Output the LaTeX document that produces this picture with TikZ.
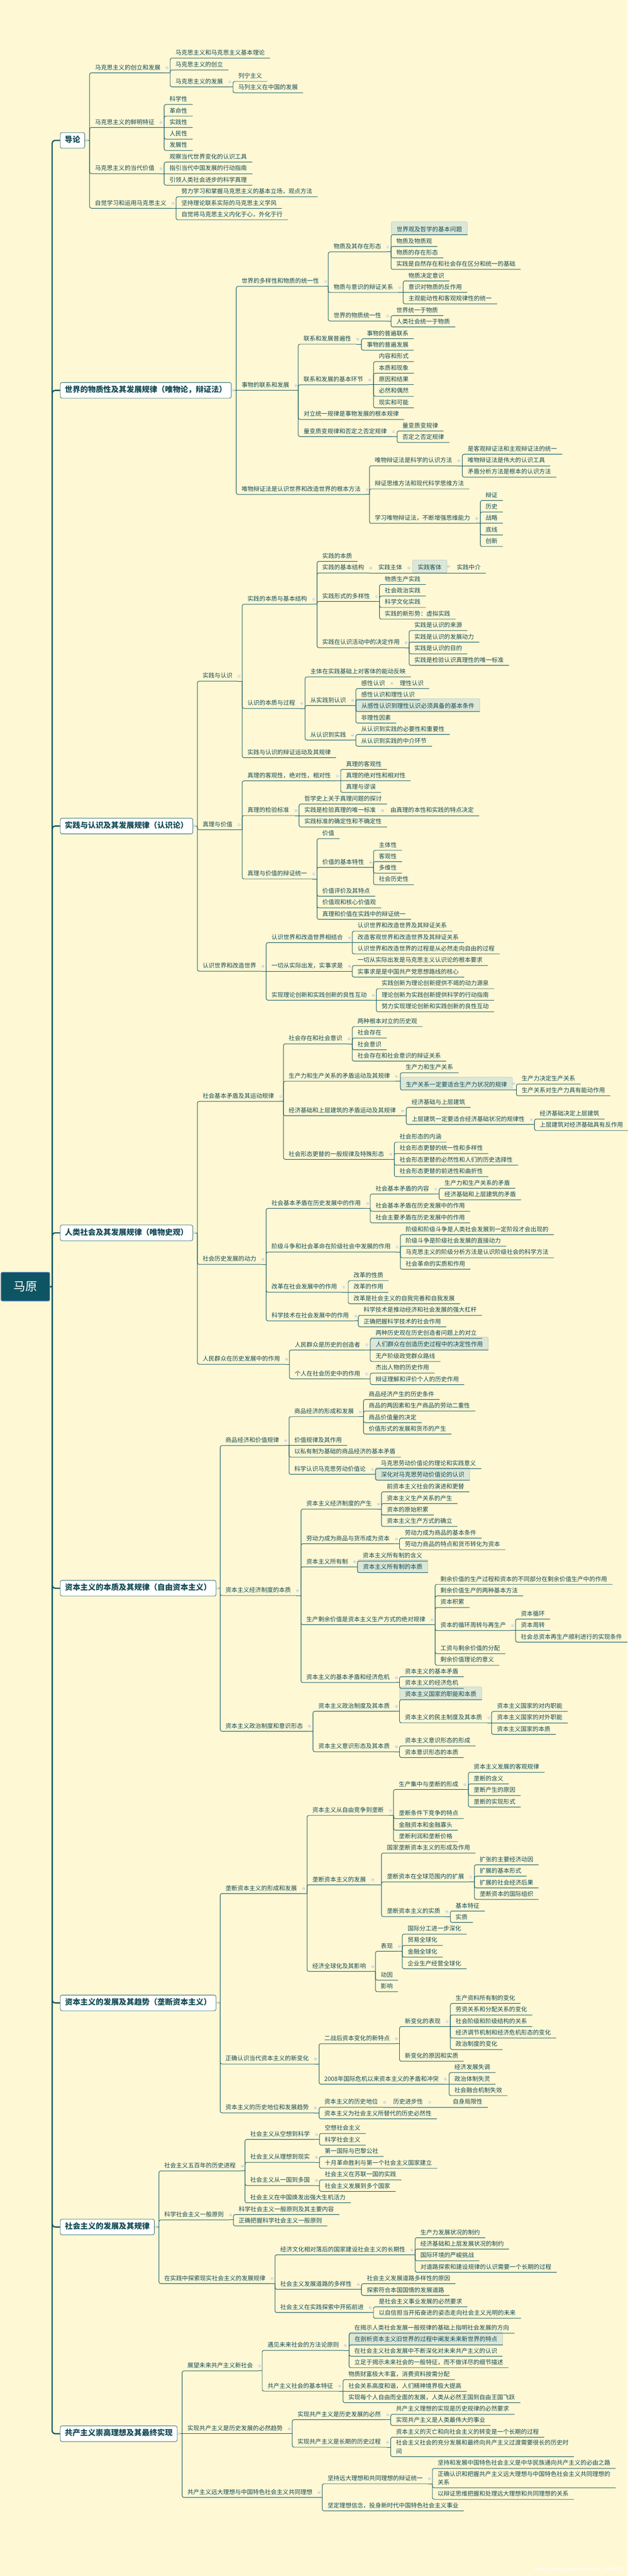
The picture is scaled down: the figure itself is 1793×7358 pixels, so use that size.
\documentclass[tikz,border=0pt]{standalone}
\usepackage{fontspec}
\setmainfont{Noto Sans CJK SC}
\usetikzlibrary{positioning}

\definecolor{bg}{HTML}{FFF8D4}
\definecolor{ink}{HTML}{124B55}
\definecolor{wire}{HTML}{0E5563}
\definecolor{boxline}{HTML}{2A6B78}
\definecolor{rootfill}{HTML}{0D5563}
\definecolor{rootline}{HTML}{5A7FC0}
\definecolor{hlfill}{HTML}{DCE7D6}
\definecolor{hlline}{HTML}{C3D2CC}
\definecolor{foldc}{HTML}{A7B3C8}

\tikzset{
  topic/.style={anchor=south west, inner xsep=15pt, inner ysep=5pt, text height=14pt, text depth=4pt, text=ink, font=\fontsize{17}{24}\selectfont},
  fold/.style={label={[foldmark]east:}},
  foldmark/.style={circle, draw=foldc, fill=white, line width=0.6pt, minimum size=7pt, inner sep=0pt,
    path picture={\draw[foldc, line width=0.6pt] ([xshift=-2pt]path picture bounding box.center) -- ([xshift=2pt]path picture bounding box.center);}},
  hl/.style={fill=hlfill, draw=hlline, line width=1.5pt, rounded corners=3pt, text height=22pt},
  twoline/.style={align=left, text height=, text depth=, inner ysep=7.5pt},
  mainbox/.style={anchor=west, draw=boxline, fill=white, line width=1.3pt, rounded corners=5pt, minimum height=45pt, inner xsep=13pt, text height=17pt, text depth=5pt, text=ink, font=\fontsize{22}{26}\selectfont\bfseries},
  rootbox/.style={draw=rootline, fill=rootfill, line width=2pt, rounded corners=4pt, minimum width=139pt, minimum height=82pt, text=white, font=\fontsize{34}{40}\selectfont},
  link/.style={draw=wire, line width=1.4pt, rounded corners=5pt},
  trunk/.style={draw=wire, line width=3.5pt, rounded corners=9pt}
}

% parent anchor, child that gives the spine, children
\newcommand{\kids}[3]{%
  \draw[link] (#1) -- (#1 -| #2.south west);
  \foreach \kid in {#3}{\draw[link] (#1 -| \kid.south west) |- (\kid.south east);}%
}
% parent anchor, child on the parent's line, other children
\newcommand{\kidsmid}[3]{%
  \draw[link] (#1) -- (#2.south east);
  \foreach \kid in {#3}{\draw[link] (#1 -| \kid.south west) |- (\kid.south east);}%
}

\begin{document}
\begin{tikzpicture}[x=1pt, y=-1pt]
    \useasboundingbox (0,0) rectangle (1793,7358);
    \fill[bg] (0,0) rectangle (1793,7358);

    %% root
    \node[rootbox] (root) at (72.5,3675) {马原};

    %% 导论
    % Nodes
    \node[mainbox] (dao) at (171.5,401) {导论};
    \node[topic, fold] (dao1) at (256,208) {马克思主义的创立和发展};
    \node[topic] (dao11) at (486,166) {马克思主义和马克思主义基本理论};
    \node[topic] (dao12) at (486,200) {马克思主义的创立};
    \node[topic, fold] (dao13) at (486,248) {马克思主义的发展};
    \node[topic] (dao131) at (665.5,232.5) {列宁主义};
    \node[topic] (dao132) at (665.5,265) {马列主义在中国的发展};
    \node[topic, fold] (dao2) at (256,364) {马克思主义的鲜明特征};
    \node[topic] (dao21) at (469,298.5) {科学性};
    \node[topic] (dao22) at (469,331.5) {革命性};
    \node[topic] (dao23) at (469,364) {实践性};
    \node[topic] (dao24) at (469,397.5) {人民性};
    \node[topic] (dao25) at (469,430) {发展性};
    \node[topic, fold] (dao3) at (256,496) {马克思主义的当代价值};
    \node[topic] (dao31) at (469,463) {观察当代世界变化的认识工具};
    \node[topic] (dao32) at (469,496) {指引当代中国发展的行动指南};
    \node[topic] (dao33) at (469,529) {引领人类社会进步的科学真理};
    \node[topic, fold] (dao4) at (256,595) {自觉学习和运用马克思主义};
    \node[topic] (dao41) at (503,562) {努力学习和掌握马克思主义的基本立场，观点方法};
    \node[topic] (dao42) at (503,595) {坚持理论联系实际的马克思主义学风};
    \node[topic] (dao43) at (503,628) {自觉将马克思主义内化于心，外化于行};

    % Connections
    \kids{dao.east}{dao1}{dao1,dao2,dao3,dao4}
    \kids{dao1.south east}{dao11}{dao11,dao12,dao13}
    \kids{dao13.south east}{dao131}{dao131,dao132}
    \kidsmid{dao2.south east}{dao23}{dao21,dao22,dao24,dao25}
    \kidsmid{dao3.south east}{dao32}{dao31,dao33}
    \kidsmid{dao4.south east}{dao42}{dao41,dao43}

    %% 唯物论，辩证法
    % Nodes
    \node[mainbox, minimum width=488.5pt] (wz) at (171.5,1115) {世界的物质性及其发展规律（唯物论，辩证法）};
    \node[topic, fold] (wz1) at (675,818) {世界的多样性和物质的统一性};
    \node[topic, fold] (wz11) at (937.7,719.5) {物质及其存在形态};
    \node[topic, hl] (wz111) at (1117,670.5) {世界观及哲学的基本问题};
    \node[topic] (wz112) at (1117,704) {物质及物质观};
    \node[topic] (wz113) at (1117,736.5) {物质的存在形态};
    \node[topic] (wz114) at (1117,769.5) {实践是自然存在和社会存在区分和统一的基础};
    \node[topic, fold] (wz12) at (937.7,835.5) {物质与意识的辩证关系};
    \node[topic] (wz121) at (1151.5,802.5) {物质决定意识};
    \node[topic] (wz122) at (1151.5,835.5) {意识对物质的反作用};
    \node[topic] (wz123) at (1151.5,868) {主观能动性和客观规律性的统一};
    \node[topic, fold] (wz13) at (937.7,917) {世界的物质统一性};
    \node[topic] (wz131) at (1117,901.5) {世界统一于物质};
    \node[topic] (wz132) at (1117,934) {人类社会统一于物质};
    \node[topic, fold] (wz2) at (675,1115) {事物的联系和发展};
    \node[topic, fold] (wz21) at (852,983) {联系和发展普遍性};
    \node[topic] (wz211) at (1032.6,967.5) {事物的普遍联系};
    \node[topic] (wz212) at (1032.6,1000.5) {事物的普遍发展};
    \node[topic, fold] (wz22) at (852,1099) {联系和发展的基本环节};
    \node[topic] (wz221) at (1067,1033) {内容和形式};
    \node[topic] (wz222) at (1067,1066) {本质和现象};
    \node[topic] (wz223) at (1067,1099) {原因和结果};
    \node[topic] (wz224) at (1067,1132) {必然和偶然};
    \node[topic] (wz225) at (1067,1165) {现实和可能};
    \node[topic] (wz23) at (852,1198) {对立统一规律是事物发展的根本规律};
    \node[topic, fold] (wz24) at (852,1247) {量变质变规律和否定之否定规律};
    \node[topic] (wz241) at (1134.3,1231) {量变质变规律};
    \node[topic] (wz242) at (1134.3,1264) {否定之否定规律};
    \node[topic, fold] (wz3) at (675,1412.5) {唯物辩证法是认识世界和改造世界的根本方法};
    \node[topic, fold] (wz31) at (1055.4,1330.5) {唯物辩证法是科学的认识方法};
    \node[topic] (wz311) at (1320.7,1297.5) {是客观辩证法和主观辩证法的统一};
    \node[topic] (wz312) at (1320.7,1330.5) {唯物辩证法是伟大的认识工具};
    \node[topic] (wz313) at (1320.7,1363) {矛盾分析方法是根本的认识方法};
    \node[topic] (wz32) at (1055.4,1396.5) {辩证思维方法和现代科学思维方法};
    \node[topic, fold] (wz33) at (1055.4,1495) {学习唯物辩证法，不断增强思维能力};
    \node[topic] (wz331) at (1372,1429.5) {辩证};
    \node[topic] (wz332) at (1372,1462.5) {历史};
    \node[topic] (wz333) at (1372,1495) {战略};
    \node[topic] (wz334) at (1372,1528) {底线};
    \node[topic] (wz335) at (1372,1561) {创新};

    % Connections
    \kidsmid{wz.east}{wz2}{wz1,wz3}
    \kids{wz1.south east}{wz11}{wz11,wz12,wz13}
    \kids{wz11.south east}{wz111}{wz111,wz112,wz113,wz114}
    \kidsmid{wz12.south east}{wz122}{wz121,wz123}
    \kids{wz13.south east}{wz131}{wz131,wz132}
    \kids{wz2.south east}{wz21}{wz21,wz22,wz23,wz24}
    \kids{wz21.south east}{wz211}{wz211,wz212}
    \kidsmid{wz22.south east}{wz223}{wz221,wz222,wz224,wz225}
    \kids{wz24.south east}{wz241}{wz241,wz242}
    \kids{wz3.south east}{wz31}{wz31,wz32,wz33}
    \kidsmid{wz31.south east}{wz312}{wz311,wz313}
    \kidsmid{wz33.south east}{wz333}{wz331,wz332,wz334,wz335}

    %% 认识论
    % Nodes
    \node[mainbox, minimum width=378.5pt] (rs) at (171.5,2359.5) {实践与认识及其发展规律（认识论）};
    \node[topic, fold] (rs1) at (563.7,1945.5) {实践与认识};
    \node[topic, fold] (rs11) at (691.8,1726) {实践的本质与基本结构};
    \node[topic] (rs111) at (905.6,1603.5) {实践的本质};
    \node[topic, fold] (rs112) at (905.6,1636.5) {实践的基本结构};
    \node[topic, fold] (rs1121) at (1065.7,1636.5) {实践主体};
    \node[topic, hl, fold] (rs1122) at (1177.8,1636.5) {实践客体};
    \node[topic] (rs1123) at (1289.9,1636.5) {实践中介};
    \node[topic, fold] (rs113) at (905.6,1718) {实践形式的多样性};
    \node[topic] (rs1131) at (1084,1669.5) {物质生产实践};
    \node[topic] (rs1132) at (1084,1702.5) {社会政治实践};
    \node[topic] (rs1133) at (1084,1735) {科学文化实践};
    \node[topic] (rs1134) at (1084,1768.5) {实践的新形势：虚拟实践};
    \node[topic, fold] (rs114) at (905.6,1850) {实践在认识活动中的决定作用};
    \node[topic] (rs1141) at (1168.6,1801) {实践是认识的来源};
    \node[topic] (rs1142) at (1168.6,1834) {实践是认识的发展动力};
    \node[topic] (rs1143) at (1168.6,1867.5) {实践是认识的目的};
    \node[topic] (rs1144) at (1168.6,1900.5) {实践是检验认识真理性的唯一标准};
    \node[topic, fold] (rs12) at (691.8,2023.5) {认识的本质与过程};
    \node[topic] (rs121) at (871.3,1933.5) {主体在实践基础上对客体的能动反映};
    \node[topic, fold] (rs122) at (871.3,2015) {从实践到认识};
    \node[topic, fold] (rs1221) at (1016.6,1966.5) {感性认识};
    \node[topic] (rs12211) at (1127,1966.5) {理性认识};
    \node[topic] (rs1222) at (1016.6,1999) {感性认识和理性认识};
    \node[topic, hl] (rs1223) at (1016.6,2032.5) {从感性认识到理性认识必须具备的基本条件};
    \node[topic] (rs1224) at (1016.6,2065.5) {非理性因素};
    \node[topic, fold] (rs123) at (871.3,2114) {从认识到实践};
    \node[topic] (rs1231) at (1016.6,2098) {从认识到实践的必要性和重要性};
    \node[topic] (rs1232) at (1016.6,2131.5) {从认识到实践的中介环节};
    \node[topic] (rs13) at (691.8,2164) {实践与认识的辩证运动及其规律};
    \node[topic, fold] (rs2) at (563.7,2370) {真理与价值};
    \node[topic, fold] (rs21) at (691.8,2230.5) {真理的客观性，绝对性，相对性};
    \node[topic] (rs211) at (973.1,2197.5) {真理的客观性};
    \node[topic] (rs212) at (973.1,2230.5) {真理的绝对性和相对性};
    \node[topic] (rs213) at (973.1,2263.5) {真理与谬误};
    \node[topic, fold] (rs22) at (691.8,2329.5) {真理的检验标准};
    \node[topic] (rs221) at (854.2,2296.5) {哲学史上关于真理问题的探讨};
    \node[topic, fold] (rs222) at (854.2,2329.5) {实践是检验真理的唯一标准};
    \node[topic] (rs2221) at (1100,2329.5) {由真理的本性和实践的特点决定};
    \node[topic] (rs223) at (854.2,2362) {实践标准的确定性和不确定性};
    \node[topic, fold] (rs23) at (691.8,2510.5) {真理与价值的辩证统一};
    \node[topic] (rs231) at (905.6,2395.5) {价值};
    \node[topic, fold] (rs232) at (905.6,2477.5) {价值的基本特性};
    \node[topic] (rs2321) at (1067,2428.5) {主体性};
    \node[topic] (rs2322) at (1067,2461) {客观性};
    \node[topic] (rs2323) at (1067,2494) {多维性};
    \node[topic] (rs2324) at (1067,2527) {社会历史性};
    \node[topic] (rs233) at (905.6,2560) {价值评价及其特点};
    \node[topic] (rs234) at (905.6,2593) {价值观和核心价值观};
    \node[topic] (rs235) at (905.6,2626) {真理和价值在实践中的辩证统一};
    \node[topic, fold] (rs3) at (563.7,2774) {认识世界和改造世界};
    \node[topic, fold] (rs31) at (760.4,2692.5) {认识世界和改造世界相结合};
    \node[topic] (rs311) at (1006.3,2659.5) {认识世界和改造世界及其辩证关系};
    \node[topic] (rs312) at (1006.3,2692.5) {改造客观世界和改造世界及其辩证关系};
    \node[topic] (rs313) at (1006.3,2725) {认识世界和改造世界的过程是从必然走向自由的过程};
    \node[topic, fold] (rs32) at (760.4,2774) {一切从实际出发，实事求是};
    \node[topic] (rs321) at (1006.3,2758) {一切从实际出发是马克思主义认识论的根本要求};
    \node[topic] (rs322) at (1006.3,2791) {实事求是是中国共产党思想路线的核心};
    \node[topic, fold] (rs33) at (760.4,2857) {实现理论创新和实践创新的良性互动};
    \node[topic] (rs331) at (1075,2824) {实践创新为理论创新提供不竭的动力源泉};
    \node[topic] (rs332) at (1075,2857) {理论创新为实践创新提供科学的行动指南};
    \node[topic] (rs333) at (1075,2890) {努力实现理论创新和实践创新的良性互动};

    % Connections
    \kids{rs.east}{rs1}{rs1,rs2,rs3}
    \kids{rs1.south east}{rs11}{rs11,rs12,rs13}
    \kids{rs11.south east}{rs111}{rs111,rs112,rs113,rs114}
    \draw[link] (rs112.south east) -- (rs1121.south east);
    \draw[link] (rs1121.south east) -- (rs1122.south east);
    \draw[link] (rs1122.south east) -- (rs1123.south east);
    \kids{rs113.south east}{rs1131}{rs1131,rs1132,rs1133,rs1134}
    \kids{rs114.south east}{rs1141}{rs1141,rs1142,rs1143,rs1144}
    \kids{rs12.south east}{rs121}{rs121,rs122,rs123}
    \kids{rs122.south east}{rs1221}{rs1221,rs1222,rs1223,rs1224}
    \draw[link] (rs1221.south east) -- (rs12211.south east);
    \kids{rs123.south east}{rs1231}{rs1231,rs1232}
    \kids{rs2.south east}{rs21}{rs21,rs22,rs23}
    \kidsmid{rs21.south east}{rs212}{rs211,rs213}
    \kidsmid{rs22.south east}{rs222}{rs221,rs223}
    \draw[link] (rs222.south east) -- (rs2221.south east);
    \kids{rs23.south east}{rs231}{rs231,rs232,rs233,rs234,rs235}
    \kids{rs232.south east}{rs2321}{rs2321,rs2322,rs2323,rs2324}
    \kidsmid{rs3.south east}{rs32}{rs31,rs33}
    \kidsmid{rs31.south east}{rs312}{rs311,rs313}
    \kids{rs32.south east}{rs321}{rs321,rs322}
    \kidsmid{rs33.south east}{rs332}{rs331,rs333}

    %% 唯物史观
    % Nodes
    \node[mainbox, minimum width=378.5pt] (ls) at (171.5,3521.5) {人类社会及其发展规律（唯物史观）};
    \node[topic, fold] (ls1) at (563.7,3146) {社会基本矛盾及其运动规律};
    \node[topic, fold] (ls11) at (809.6,2981.5) {社会存在和社会意识};
    \node[topic] (ls111) at (1006.3,2932.5) {两种根本对立的历史观};
    \node[topic] (ls112) at (1006.3,2965) {社会存在};
    \node[topic] (ls113) at (1006.3,2998.5) {社会意识};
    \node[topic] (ls114) at (1006.3,3031) {社会存在和社会意识的辩证关系};
    \node[topic, fold] (ls12) at (809.6,3088.5) {生产力和生产关系的矛盾运动及其规律};
    \node[topic] (ls121) at (1143.5,3064) {生产力和生产关系};
    \node[topic, hl, fold] (ls122) at (1143.5,3113.5) {生产关系一定要适合生产力状况的规律};
    \node[topic] (ls1221) at (1475,3096.5) {生产力决定生产关系};
    \node[topic] (ls1222) at (1475,3130) {生产关系对生产力具有能动作用};
    \node[topic, fold] (ls13) at (809.6,3187) {经济基础和上层建筑的矛盾运动及其规律};
    \node[topic] (ls131) at (1160.6,3163) {经济基础与上层建筑};
    \node[topic, fold] (ls132) at (1160.6,3212) {上层建筑一定要适合经济基础状况的规律性};
    \node[topic] (ls1321) at (1526.6,3196.5) {经济基础决定上层建筑};
    \node[topic] (ls1322) at (1526.6,3229) {上层建筑对经济基础具有反作用};
    \node[topic, fold] (ls14) at (809.6,3311.5) {社会形态更替的一般规律及特殊形态};
    \node[topic] (ls141) at (1126.3,3262.5) {社会形态的内涵};
    \node[topic] (ls142) at (1126.3,3295) {社会形态更替的统一性和多样性};
    \node[topic] (ls143) at (1126.3,3328) {社会形态更替的必然性和人们的历史选择性};
    \node[topic] (ls144) at (1126.3,3361) {社会形态更替的前进性和曲折性};
    \node[topic, fold] (ls2) at (563.7,3611.5) {社会历史发展的动力};
    \node[topic, fold] (ls21) at (760.4,3451.5) {社会基本矛盾在历史发展中的作用};
    \node[topic, fold] (ls211) at (1057.7,3410.5) {社会基本矛盾的内容};
    \node[topic] (ls2111) at (1254.4,3394) {生产力和生产关系的矛盾};
    \node[topic] (ls2112) at (1254.4,3427) {经济基础和上层建筑的矛盾};
    \node[topic] (ls212) at (1057.7,3460) {社会基本矛盾在历史发展中的作用};
    \node[topic] (ls213) at (1057.7,3493) {社会主要矛盾在历史发展中的作用};
    \node[topic, fold] (ls22) at (760.4,3576) {阶级斗争和社会革命在阶级社会中发展的作用};
    \node[topic] (ls221) at (1143.5,3526.5) {阶级和阶级斗争是人类社会发展到一定阶段才会出现的};
    \node[topic] (ls222) at (1143.5,3559.5) {阶级斗争是阶级社会发展的直接动力};
    \node[topic] (ls223) at (1143.5,3592.5) {马克思主义的阶级分析方法是认识阶级社会的科学方法};
    \node[topic] (ls224) at (1143.5,3625.5) {社会革命的实质和作用};
    \node[topic, fold] (ls23) at (760.4,3691) {改革在社会发展中的作用};
    \node[topic] (ls231) at (994.8,3658) {改革的性质};
    \node[topic] (ls232) at (994.8,3691) {改革的作用};
    \node[topic] (ls233) at (994.8,3724) {改革是社会主义的自我完善和自我发展};
    \node[topic, fold] (ls24) at (760.4,3773) {科学技术在社会发展中的作用};
    \node[topic] (ls241) at (1023.4,3757) {科学技术是推动经济和社会发展的强大杠杆};
    \node[topic] (ls242) at (1023.4,3790) {正确把握科学技术的社会作用};
    \node[topic, fold] (ls3) at (563.7,3897) {人民群众在历史发展中的作用};
    \node[topic, fold] (ls31) at (826.7,3856) {人民群众是历史的创造者};
    \node[topic] (ls311) at (1057.7,3823) {两种历史观在历史创造者问题上的对立};
    \node[topic, hl] (ls312) at (1057.7,3856) {人们群众在创造历史过程中的决定性作用};
    \node[topic] (ls313) at (1057.7,3889) {无产阶级政党群众路线};
    \node[topic, fold] (ls32) at (826.7,3938.5) {个人在社会历史中的作用};
    \node[topic] (ls321) at (1057.7,3922) {杰出人物的历史作用};
    \node[topic] (ls322) at (1057.7,3955) {辩证理解和评价个人的历史作用};

    % Connections
    \kids{ls.east}{ls1}{ls1,ls2,ls3}
    \kids{ls1.south east}{ls11}{ls11,ls12,ls13,ls14}
    \kids{ls11.south east}{ls111}{ls111,ls112,ls113,ls114}
    \kids{ls12.south east}{ls121}{ls121,ls122}
    \kids{ls122.south east}{ls1221}{ls1221,ls1222}
    \kids{ls13.south east}{ls131}{ls131,ls132}
    \kids{ls132.south east}{ls1321}{ls1321,ls1322}
    \kids{ls14.south east}{ls141}{ls141,ls142,ls143,ls144}
    \kids{ls2.south east}{ls21}{ls21,ls22,ls23,ls24}
    \kids{ls21.south east}{ls211}{ls211,ls212,ls213}
    \kids{ls211.south east}{ls2111}{ls2111,ls2112}
    \kids{ls22.south east}{ls221}{ls221,ls222,ls223,ls224}
    \kidsmid{ls23.south east}{ls232}{ls231,ls233}
    \kids{ls24.south east}{ls241}{ls241,ls242}
    \kids{ls3.south east}{ls31}{ls31,ls32}
    \kidsmid{ls31.south east}{ls312}{ls311,ls313}
    \kids{ls32.south east}{ls321}{ls321,ls322}

    %% 自由资本主义
    % Nodes
    \node[mainbox, minimum width=444.8pt] (zb) at (171.5,4536.5) {资本主义的本质及其规律（自由资本主义）};
    \node[topic, fold] (zb1) at (628.9,4129) {商品经济和价值规律};
    \node[topic, fold] (zb11) at (825.6,4046.5) {商品经济的形成和发展};
    \node[topic] (zb111) at (1038.3,3997.5) {商品经济产生的历史条件};
    \node[topic] (zb112) at (1038.3,4030.5) {商品的两因素和生产商品的劳动二重性};
    \node[topic] (zb113) at (1038.3,4063.5) {商品价值量的决定};
    \node[topic] (zb114) at (1038.3,4096) {价值形式的发展和货币的产生};
    \node[topic] (zb12) at (825.6,4129) {价值规律及其作用};
    \node[topic] (zb13) at (825.6,4162) {以私有制为基础的商品经济的基本矛盾};
    \node[topic, fold] (zb14) at (825.6,4211) {科学认识马克思劳动价值论};
    \node[topic] (zb141) at (1072.6,4195) {马克思劳动价值论的理论和实践意义};
    \node[topic, hl] (zb142) at (1072.6,4228) {深化对马克思劳动价值论的认识};
    \node[topic, fold] (zb2) at (628.9,4557.5) {资本主义经济制度的本质};
    \node[topic, fold] (zb21) at (859.9,4310.5) {资本主义经济制度的产生};
    \node[topic] (zb211) at (1089.7,4261) {前资本主义社会的演进和更替};
    \node[topic] (zb212) at (1089.7,4294.5) {资本主义生产关系的产生};
    \node[topic] (zb213) at (1089.7,4327.5) {资本的原始积累};
    \node[topic] (zb214) at (1089.7,4360) {资本主义生产方式的确立};
    \node[topic, fold] (zb22) at (859.9,4409.5) {劳动力成为商品与货币成为资本};
    \node[topic] (zb221) at (1141.2,4393.5) {劳动力成为商品的基本条件};
    \node[topic] (zb222) at (1141.2,4426.5) {劳动力商品的特点和货币转化为资本};
    \node[topic, fold] (zb23) at (859.9,4475.5) {资本主义所有制};
    \node[topic] (zb231) at (1021.1,4459) {资本主义所有制的含义};
    \node[topic, hl] (zb232) at (1021.1,4492) {资本主义所有制的本质};
    \node[topic, fold] (zb24) at (859.9,4640.5) {生产剩余价值是资本主义生产方式的绝对规律};
    \node[topic] (zb241) at (1243,4525.5) {剩余价值的生产过程和资本的不同部分在剩余价值生产中的作用};
    \node[topic] (zb242) at (1243,4558.5) {剩余价值生产的两种基本方法};
    \node[topic] (zb243) at (1243,4591.5) {资本积累};
    \node[topic, fold] (zb244) at (1243,4657.5) {资本的循环周转与再生产};
    \node[topic] (zb2441) at (1472.8,4624.5) {资本循环};
    \node[topic] (zb2442) at (1472.8,4657.5) {资本周转};
    \node[topic] (zb2443) at (1472.8,4690.5) {社会总资本再生产顺利进行的实现条件};
    \node[topic] (zb245) at (1243,4723.5) {工资与剩余价值的分配};
    \node[topic] (zb246) at (1243,4756.5) {剩余价值理论的意义};
    \node[topic, fold] (zb25) at (859.9,4806) {资本主义的基本矛盾和经济危机};
    \node[topic] (zb251) at (1141.2,4789) {资本主义的基本矛盾};
    \node[topic] (zb252) at (1141.2,4822.5) {资本主义的经济危机};
    \node[topic, fold] (zb3) at (628.9,4945) {资本主义政治制度和意识形态};
    \node[topic, fold] (zb31) at (894.2,4888) {资本主义政治制度及其本质};
    \node[topic, hl] (zb311) at (1141.2,4855) {资本主义国家的职能和本质};
    \node[topic, fold] (zb312) at (1141.2,4921) {资本主义的民主制度及其本质};
    \node[topic] (zb3121) at (1404.2,4888.5) {资本主义国家的对内职能};
    \node[topic] (zb3122) at (1404.2,4921) {资本主义国家的对外职能};
    \node[topic] (zb3123) at (1404.2,4954) {资本主义国家的本质};
    \node[topic, fold] (zb32) at (894.2,5003.5) {资本主义意识形态及其本质};
    \node[topic] (zb321) at (1141.2,4987) {资本主义意识形态的形成};
    \node[topic] (zb322) at (1141.2,5020) {资本意识形态的本质};

    % Connections
    \kids{zb.east}{zb1}{zb1,zb2,zb3}
    \kidsmid{zb1.south east}{zb12}{zb11,zb13,zb14}
    \kids{zb11.south east}{zb111}{zb111,zb112,zb113,zb114}
    \kids{zb14.south east}{zb141}{zb141,zb142}
    \kids{zb2.south east}{zb21}{zb21,zb22,zb23,zb24,zb25}
    \kids{zb21.south east}{zb211}{zb211,zb212,zb213,zb214}
    \kids{zb22.south east}{zb221}{zb221,zb222}
    \kids{zb23.south east}{zb231}{zb231,zb232}
    \kids{zb24.south east}{zb241}{zb241,zb242,zb243,zb244,zb245,zb246}
    \kidsmid{zb244.south east}{zb2442}{zb2441,zb2443}
    \kids{zb25.south east}{zb251}{zb251,zb252}
    \kids{zb3.south east}{zb31}{zb31,zb32}
    \kids{zb31.south east}{zb311}{zb311,zb312}
    \kidsmid{zb312.south east}{zb3122}{zb3121,zb3123}
    \kids{zb32.south east}{zb321}{zb321,zb322}

    %% 垄断资本主义
    % Nodes
    \node[mainbox, minimum width=444.8pt] (ld) at (171.5,5721) {资本主义的发展及其趋势（垄断资本主义）};
    \node[topic, fold] (ld1) at (628.9,5408.5) {垄断资本主义的形成和发展};
    \node[topic, fold] (ld11) at (877.1,5185.5) {资本主义从自由竞争到垄断};
    \node[topic, fold] (ld111) at (1124.1,5111.5) {生产集中与垄断的形成};
    \node[topic] (ld1111) at (1337.9,5062.5) {资本主义发展的客观规律};
    \node[topic] (ld1112) at (1337.9,5095.5) {垄断的含义};
    \node[topic] (ld1113) at (1337.9,5128.5) {垄断产生的原因};
    \node[topic] (ld1114) at (1337.9,5161.5) {垄断的实现形式};
    \node[topic] (ld112) at (1124.1,5194.5) {垄断条件下竞争的特点};
    \node[topic] (ld113) at (1124.1,5227.5) {金融资本和金融寡头};
    \node[topic] (ld114) at (1124.1,5260.5) {垄断利润和垄断价格};
    \node[topic, fold] (ld12) at (877.1,5383.5) {垄断资本主义的发展};
    \node[topic] (ld121) at (1089.7,5293) {国家垄断资本主义的形成及作用};
    \node[topic, fold] (ld122) at (1089.7,5375.5) {垄断资本在全球范围内的扩展};
    \node[topic] (ld1221) at (1355,5326.5) {扩张的主要经济动因};
    \node[topic] (ld1222) at (1355,5359) {扩展的基本形式};
    \node[topic] (ld1223) at (1355,5392.5) {扩展的社会经济后果};
    \node[topic] (ld1224) at (1355,5425.5) {垄断资本的国际组织};
    \node[topic, fold] (ld123) at (1089.7,5474.5) {垄断资本主义的实质};
    \node[topic] (ld1231) at (1286.4,5458.5) {基本特征};
    \node[topic] (ld1232) at (1286.4,5491) {实质};
    \node[topic, fold] (ld13) at (877.1,5631) {经济全球化及其影响};
    \node[topic, fold] (ld131) at (1072.6,5573.5) {表现};
    \node[topic] (ld1311) at (1149.2,5524.5) {国际分工进一步深化};
    \node[topic] (ld1312) at (1149.2,5557) {贸易全球化};
    \node[topic] (ld1313) at (1149.2,5590.5) {金融全球化};
    \node[topic] (ld1314) at (1149.2,5623.5) {企业生产经营全球化};
    \node[topic] (ld132) at (1072.6,5656) {动因};
    \node[topic] (ld133) at (1072.6,5689) {影响};
    \node[topic, fold] (ld2) at (628.9,5895.5) {正确认识当代资本主义的新变化};
    \node[topic, fold] (ld21) at (911.4,5837.5) {二战后资本变化的新特点};
    \node[topic, fold] (ld211) at (1141.2,5788.5) {新变化的表现};
    \node[topic] (ld2111) at (1286.4,5722.5) {生产资料所有制的变化};
    \node[topic] (ld2112) at (1286.4,5755.5) {劳资关系和分配关系的变化};
    \node[topic] (ld2113) at (1286.4,5788.5) {社会阶级和阶级结构的关系};
    \node[topic] (ld2114) at (1286.4,5821.5) {经济调节机制和经济危机形态的变化};
    \node[topic] (ld2115) at (1286.4,5854) {政治制度的变化};
    \node[topic] (ld212) at (1141.2,5887.5) {新变化的原因和实质};
    \node[topic, fold] (ld22) at (911.4,5953) {2008年国际危机以来资本主义的矛盾和冲突};
    \node[topic] (ld221) at (1283,5920) {经济发展失调};
    \node[topic] (ld222) at (1283,5953) {政治体制失灵};
    \node[topic] (ld223) at (1283,5986) {社会融合机制失效};
    \node[topic, fold] (ld3) at (628.9,6035) {资本主义的历史地位和发展趋势};
    \node[topic, fold] (ld31) at (911.4,6019) {资本主义的历史地位};
    \node[topic, fold] (ld311) at (1108,6019) {历史进步性\hspace{42pt}};
    \node[topic] (ld3111) at (1278,6019) {自身局限性};
    \node[topic] (ld32) at (911.4,6052) {资本主义为社会主义所替代的历史必然性};

    % Connections
    \kids{ld.east}{ld1}{ld1,ld2,ld3}
    \kids{ld1.south east}{ld11}{ld11,ld12,ld13}
    \kids{ld11.south east}{ld111}{ld111,ld112,ld113,ld114}
    \kids{ld111.south east}{ld1111}{ld1111,ld1112,ld1113,ld1114}
    \kids{ld12.south east}{ld121}{ld121,ld122,ld123}
    \kids{ld122.south east}{ld1221}{ld1221,ld1222,ld1223,ld1224}
    \kids{ld123.south east}{ld1231}{ld1231,ld1232}
    \kids{ld13.south east}{ld131}{ld131,ld132,ld133}
    \kids{ld131.south east}{ld1311}{ld1311,ld1312,ld1313,ld1314}
    \kids{ld2.south east}{ld21}{ld21,ld22}
    \kids{ld21.south east}{ld211}{ld211,ld212}
    \kidsmid{ld211.south east}{ld2113}{ld2111,ld2112,ld2114,ld2115}
    \kidsmid{ld22.south east}{ld222}{ld221,ld223}
    \kids{ld3.south east}{ld31}{ld31,ld32}
    \draw[link] (ld31.south east) -- (ld311.south east);
    \draw[link] (ld311.south east) -- (ld3111.south east);

    %% 社会主义
    % Nodes
    \node[mainbox, minimum width=268.7pt] (sz) at (171.5,6361) {社会主义的发展及其规律};
    \node[topic, fold] (sz1) at (454,6201) {社会主义五百年的历史进程};
    \node[topic, fold] (sz11) at (699.8,6111) {社会主义从空想到科学};
    \node[topic] (sz111) at (912.5,6094) {空想社会主义};
    \node[topic] (sz112) at (912.5,6127.5) {科学社会主义};
    \node[topic, fold] (sz12) at (699.8,6176.5) {社会主义从理想到现实};
    \node[topic] (sz121) at (912.5,6160) {第一国际与巴黎公社};
    \node[topic] (sz122) at (912.5,6193.5) {十月革命胜利与第一个社会主义国家建立};
    \node[topic, fold] (sz13) at (699.8,6242.5) {社会主义从一国到多国};
    \node[topic] (sz131) at (912.5,6226.5) {社会主义在苏联一国的实践};
    \node[topic] (sz132) at (912.5,6259.5) {社会主义发展到多个国家};
    \node[topic] (sz14) at (699.8,6292) {社会主义在中国焕发出强大生机活力};
    \node[topic, fold] (sz2) at (454,6341) {科学社会主义一般原则};
    \node[topic] (sz21) at (666.7,6325.5) {科学社会主义一般原则及其主要内容};
    \node[topic] (sz22) at (666.7,6358) {正确把握科学社会主义一般原则};
    \node[topic, fold] (sz3) at (454,6522.5) {在实践中探索现实社会主义的发展规律};
    \node[topic, fold] (sz31) at (785.6,6440.5) {经济文化相对落后的国家建设社会主义的长期性};
    \node[topic] (sz311) at (1185.8,6391.5) {生产力发展状况的制约};
    \node[topic] (sz312) at (1185.8,6424) {经济基础和上层发展状况的制约};
    \node[topic] (sz313) at (1185.8,6457.5) {国际环境的严峻挑战};
    \node[topic] (sz314) at (1185.8,6490.5) {对道路探索和建设规律的认识需要一个长期的过程};
    \node[topic, fold] (sz32) at (785.6,6539) {社会主义发展道路的多样性};
    \node[topic] (sz321) at (1032.6,6523) {社会主义发展道路多样性的原因};
    \node[topic] (sz322) at (1032.6,6556.5) {探索符合本国国情的发展道路};
    \node[topic, fold] (sz33) at (785.6,6605.5) {社会主义在实践探索中开拓前进};
    \node[topic] (sz331) at (1066.9,6589) {是社会主义事业发展的必然要求};
    \node[topic] (sz332) at (1066.9,6622) {以自信担当开拓奋进的姿态走向社会主义光明的未来};

    % Connections
    \kids{sz.east}{sz1}{sz1,sz2,sz3}
    \kids{sz1.south east}{sz11}{sz11,sz12,sz13,sz14}
    \kids{sz11.south east}{sz111}{sz111,sz112}
    \kids{sz12.south east}{sz121}{sz121,sz122}
    \kids{sz13.south east}{sz131}{sz131,sz132}
    \kids{sz2.south east}{sz21}{sz21,sz22}
    \kids{sz3.south east}{sz31}{sz31,sz32,sz33}
    \kids{sz31.south east}{sz311}{sz311,sz312,sz313,sz314}
    \kids{sz32.south east}{sz321}{sz321,sz322}
    \kids{sz33.south east}{sz331}{sz331,sz332}

    %% 共产主义
    % Nodes
    \node[mainbox, minimum width=334pt] (gc) at (171.5,6951.5) {共产主义崇高理想及其最终实现};
    \node[topic, fold] (gc1) at (520.3,6772) {展望未来共产主义新社会};
    \node[topic, fold] (gc11) at (749,6713.5) {遇见未来社会的方法论原则};
    \node[topic] (gc111) at (997.1,6664.5) {在揭示人类社会发展一般规律的基础上指明社会发展的方向};
    \node[topic, hl] (gc112) at (997.1,6698) {在剖析资本主义旧世界的过程中阐发未来新世界的特点};
    \node[topic] (gc113) at (997.1,6730) {在社会主义社会发展中不断深化对未来共产主义的认识};
    \node[topic] (gc114) at (997.1,6763) {立足于揭示未来社会的一般特征，而不做详尽的细节描述};
    \node[topic, fold] (gc12) at (749,6830) {共产主义社会的基本特征};
    \node[topic] (gc121) at (980,6797) {物质财富极大丰富，消费资料按需分配};
    \node[topic] (gc122) at (980,6830) {社会关系高度和谐，人们精神境界极大提高};
    \node[topic] (gc123) at (980,6863) {实现每个人自由而全面的发展，人类从必然王国到自由王国飞跃};
    \node[topic, fold] (gc2) at (520.3,6951.5) {实现共产主义是历史发展的必然趋势};
    \node[topic, fold] (gc21) at (834.7,6911.5) {实现共产主义是历史发展的必然};
    \node[topic] (gc211) at (1116,6896) {共产主义理想的实现是历史规律的必然要求};
    \node[topic] (gc212) at (1116,6928) {实现共产主义是人类最伟大的事业};
    \node[topic, fold] (gc22) at (834.7,6990) {实现共产主义是长期的历史过程};
    \node[topic] (gc221) at (1116,6961.5) {资本主义的灭亡和向社会主义的转变是一个长期的过程};
    \node[topic, twoline] (gc222) at (1116,7017) {社会主义社会的充分发展和最终向共产主义过渡需要很长的历史时\\间};
    \node[topic, fold] (gc3) at (520.3,7133.5) {共产主义远大理想与中国特色社会主义共同理想};
    \node[topic, fold] (gc31) at (920.5,7094.5) {坚持远大理想和共同理想的辩证统一};
    \node[topic] (gc311) at (1235,7050.5) {坚持和发展中国特色社会主义是中华民族通向共产主义的必由之路};
    \node[topic, twoline] (gc312) at (1235,7106) {正确认识和把握共产主义远大理想与中国特色社会主义共同理想的\\关系};
    \node[topic] (gc313) at (1235,7139) {以辩证思维把握和处理远大理想和共同理想的关系};
    \node[topic] (gc32) at (920.5,7172) {坚定理想信念，投身新时代中国特色社会主义事业};

    % Connections
    \kidsmid{gc.east}{gc2}{gc1,gc3}
    \kids{gc1.south east}{gc11}{gc11,gc12}
    \kids{gc11.south east}{gc111}{gc111,gc112,gc113,gc114}
    \kidsmid{gc12.south east}{gc122}{gc121,gc123}
    \kids{gc2.south east}{gc21}{gc21,gc22}
    \kids{gc21.south east}{gc211}{gc211,gc212}
    \kids{gc22.south east}{gc221}{gc221,gc222}
    \kids{gc3.south east}{gc31}{gc31,gc32}
    \kids{gc31.south east}{gc311}{gc311,gc312,gc313}

    %% trunk
    \coordinate (spine) at (149,3675);
    \draw[trunk] (root.east) -- (spine);
    \foreach \part in {dao,wz,rs,ls,zb,ld,sz,gc}{
        \draw[trunk] (spine) |- (\part.west);
        \node[foldmark, anchor=west] (\part-fold) at (\part.east) {};
    }

    \node[anchor=east, text=white, font=\fontsize{14}{16}\selectfont] (mark) at (1786,7340) {https://blog.csdn.net/weixin\_42983712};
\end{tikzpicture}
\end{document}
